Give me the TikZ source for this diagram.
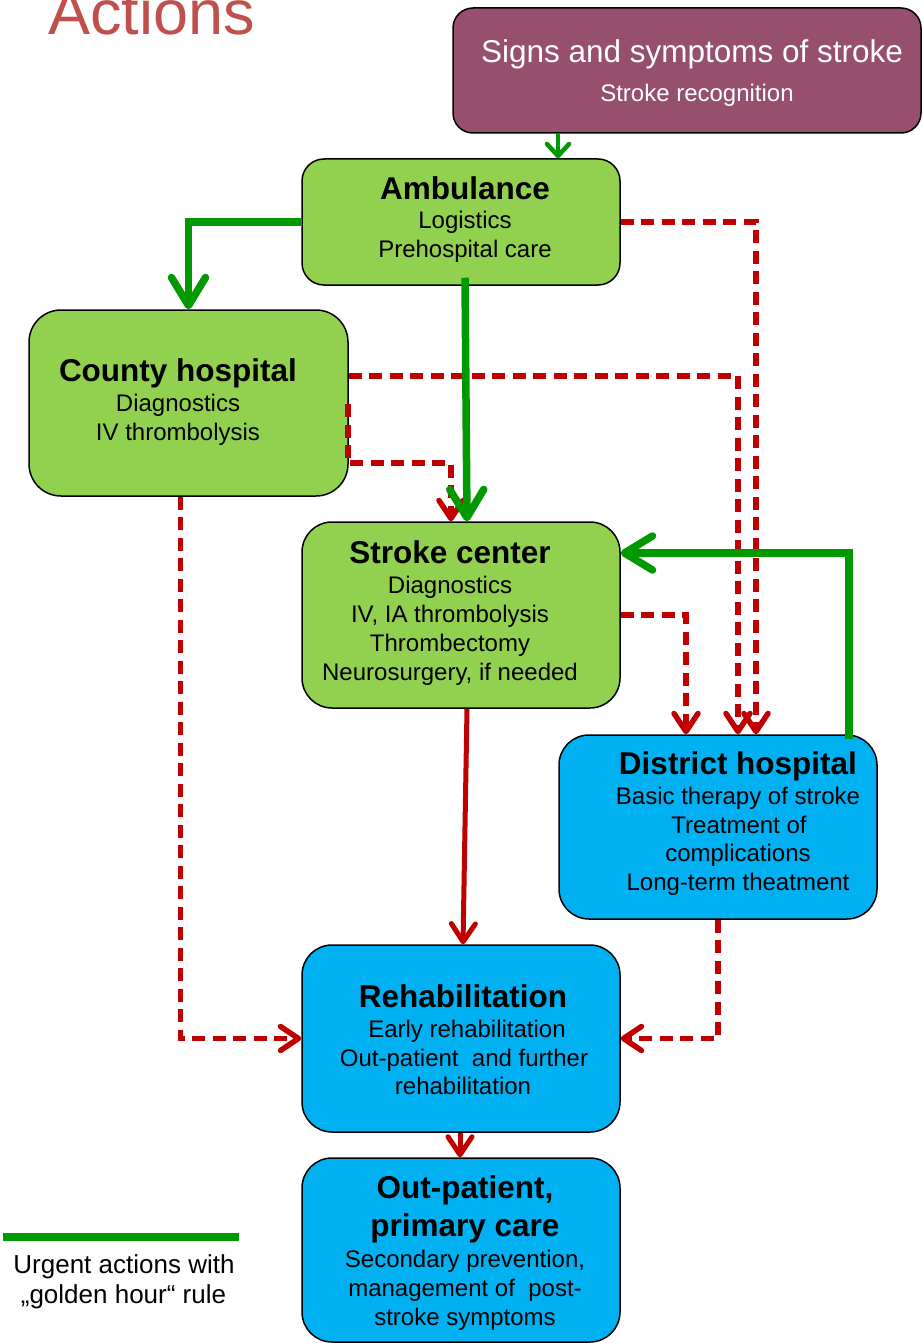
\documentclass[tikz,border=0pt]{standalone}
\usepackage{fontspec}
\setmainfont{Liberation Sans}
\usetikzlibrary{arrows.meta,calc}
\definecolor{boxgreen}{HTML}{92D050}
\definecolor{boxblue}{HTML}{00B0F0}
\definecolor{boxpurple}{HTML}{96506E}
\definecolor{argreen}{HTML}{009900}
\definecolor{arred}{HTML}{C00000}
\definecolor{titlered}{HTML}{C0504D}
\tikzset{
  box/.style={draw=black, line width=1.5pt, inner sep=0pt, rounded corners=30pt},
  lbl/.style={anchor=base, inner sep=0pt, font=\fontsize{24}{28}\selectfont},
  ttl/.style={anchor=base, inner sep=0pt, font=\fontsize{31.5}{36}\selectfont\bfseries},
  gthick/.style={draw=argreen, line width=7.5pt, -{Straight Barb[round,length=28pt,width=34pt]}},
  gthin/.style={draw=argreen, line width=4.5pt, -{Straight Barb[round,length=12pt,width=22pt]}},
  rdash/.style={draw=arred, line width=5.5pt, dash pattern=on 13pt off 7.5pt, -{Straight Barb[round,length=18pt,width=24pt]}},
  rsolid/.style={draw=arred, line width=5pt, -{Straight Barb[round,length=18pt,width=24pt]}},
}
\begin{document}
\begin{tikzpicture}[x=1pt,y=-1pt]
\useasboundingbox (0,0) rectangle (922,1343);

% title
\node[anchor=base west, inner sep=0pt, text=titlered, font=\fontsize{63}{70}\selectfont] (title) at (48,35) {Actions};

% boxes
\node[box, fill=boxpurple, rounded corners=20pt, minimum width=468pt, minimum height=125pt] (sig) at (687,70.5) {};
\node[box, fill=boxgreen, rounded corners=22pt, minimum width=318pt, minimum height=126pt] (amb) at (461,222) {};
\node[box, fill=boxgreen, rounded corners=32pt, minimum width=319pt, minimum height=186pt] (cty) at (188.5,403) {};
\node[box, fill=boxgreen, minimum width=318pt, minimum height=186pt] (sc) at (461,615) {};
\node[box, fill=boxblue, minimum width=318pt, minimum height=184pt] (dh) at (718,827) {};
\node[box, fill=boxblue, minimum width=318pt, minimum height=187pt] (reh) at (461,1038.5) {};
\node[box, fill=boxblue, minimum width=318pt, minimum height=184pt] (op) at (461,1250) {};

% texts
\node[anchor=base, inner sep=0pt, text=white, font=\fontsize{31.5}{36}\selectfont] (sigt) at (692,63) {Signs and symptoms of stroke};
\node[lbl, text=white] (sigs) at (697,102) {Stroke recognition};

\node[ttl] (ambt) at (465,200) {Ambulance};
\node[lbl] (amb1) at (465,229) {Logistics};
\node[lbl] (amb2) at (465,257) {Prehospital care};

\node[ttl] (ctyt) at (178,381) {County hospital};
\node[lbl] (cty1) at (178,411) {Diagnostics};
\node[lbl] (cty2) at (178,440) {IV thrombolysis};

\node[ttl] (sct) at (450,563) {Stroke center};
\node[lbl] (sc1) at (450,593) {Diagnostics};
\node[lbl] (sc2) at (450,622) {IV, IA thrombolysis};
\node[lbl] (sc3) at (450,651) {Thrombectomy};
\node[lbl] (sc4) at (450,680) {Neurosurgery, if needed};

\node[ttl] (dht) at (738,774) {District hospital};
\node[lbl] (dh1) at (738,804) {Basic therapy of stroke};
\node[lbl] (dh2) at (739,833) {Treatment of};
\node[lbl] (dh3) at (738,861) {complications};
\node[lbl] (dh4) at (738,890) {Long-term theatment};

\node[ttl] (reht) at (463,1007) {Rehabilitation};
\node[lbl] (reh1) at (467,1037) {Early rehabilitation};
\node[lbl] (reh2) at (464,1066) {Out-patient~ and further};
\node[lbl] (reh3) at (463,1094) {rehabilitation};

\node[ttl] (opt1) at (465,1198) {Out-patient,};
\node[ttl] (opt2) at (465,1236) {primary care};
\node[lbl] (op1) at (465,1267) {Secondary prevention,};
\node[lbl] (op2) at (465,1296) {management of~ post-};
\node[lbl] (op3) at (465,1325) {stroke symptoms};

% legend
\coordinate (lg1) at (3,1237);
\coordinate (lg2) at (239,1237);
\draw[argreen, line width=8pt] (lg1) -- (lg2);
\node[anchor=base, inner sep=0pt, font=\fontsize{26}{30}\selectfont] (lgt1) at (124,1273) {Urgent actions with};
\node[anchor=base, inner sep=0pt, font=\fontsize{26}{30}\selectfont] (lgt2) at (123.5,1303) {„golden hour“ rule};

% red connectors
\draw[rdash] (amb.east) -| ($(dh.north)+(38,0)$);
\draw[rdash] ($(cty.east)+(0,-27)$) -| ($(dh.north)+(20,0)$);
\draw[rdash] ($(cty.east)+(-1,1)$) -- ($(cty.east)+(-1,60)$) -| ($(sc.north)+(-10,0)$);
\draw[rdash] ($(cty.south)+(-8,0)$) |- (reh.west);
\draw[rdash] (sc.east) -| ($(dh.north)+(-32,0)$);
\draw[rdash] (dh.south) |- (reh.east);
\draw[rsolid] ($(sc.south)+(6,0)$) -- ($(reh.north)+(2,0)$);
\draw[rsolid] ($(reh.south)+(-1,0)$) -- ($(op.north)+(-1,0)$);

% green connectors
\coordinate (a1) at ($(amb.north)+(97,0)$);
\draw[gthin] (a1 |- sig.south) -- (a1);
\draw[gthick] (amb.west) -| (cty.north);
\draw[gthick] ($(amb.south)+(4,-8)$) -- ($(sc.north)+(6,0)$);
\draw[gthick] ($(dh.north)+(131,5)$) |- ($(sc.east)+(0,-62)$);
\end{tikzpicture}
\end{document}
